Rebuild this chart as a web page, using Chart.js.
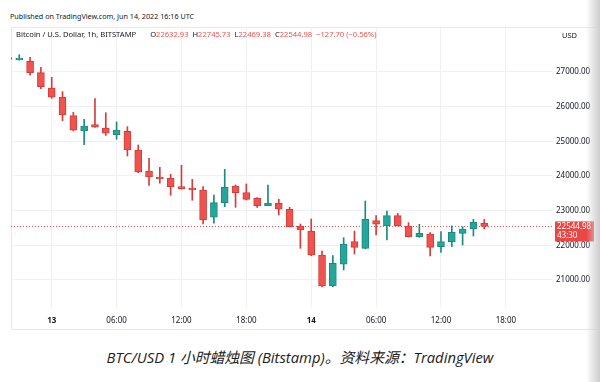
<!DOCTYPE html>
<html>
<head>
<meta charset="utf-8">
<script src="https://cdn.jsdelivr.net/npm/chart.js@4.4.1/dist/chart.umd.min.js"></script>
<style>
  html, body { margin: 0; padding: 0; background: #fff; }
  #page { position: relative; width: 600px; height: 382px; overflow: hidden; background: #fff; font-family: "Noto Sans", "DejaVu Sans", sans-serif; }
  #pub { position: absolute; left: 10px; top: 11px; font-size: 7.2px; color: #131722; white-space: nowrap; }
  #panel { position: absolute; left: 11px; top: 27px; width: 590px; height: 303px; border-top: 1px solid #e6e8ee; border-left: 1px solid #e6e8ee; border-bottom: 1px solid #e6e8ee; box-sizing: border-box; }
  #wrap { position: absolute; left: 0; top: 27px; width: 600px; height: 303px; }
  #legend { position: absolute; left: 16px; top: 29px; font-size: 7.6px; color: #131722; white-space: nowrap; }
  #legend .v { color: #ef5350; }
  #legend .g { display: inline-block; width: 14px; }
  #usd { position: absolute; left: 562px; top: 30px; font-size: 7.5px; color: #131722; }
  #caption { position: absolute; left: 0; width: 600px; top: 346px; text-align: center; font-style: italic; font-size: 14.8px; color: #222; font-family: "Open Sans", "Noto Sans CJK SC", sans-serif; white-space: nowrap; }
  #shade { position: absolute; right: 0; top: 0; width: 14px; height: 382px; background: linear-gradient(to right, rgba(220,220,220,0), rgba(205,205,205,1)); }
</style>
</head>
<body>
<div id="page">
  <div id="pub">Published on TradingView.com, Jun 14, 2022 16:16 UTC</div>
  <div id="panel"></div>
  <div id="wrap"><canvas id="c" width="600" height="303"></canvas></div>
  <div id="legend">Bitcoin / U.S. Dollar, 1h, BITSTAMP<span class="g"></span>O<span class="v">22632.93</span>&nbsp; H<span class="v">22745.73</span>&nbsp; L<span class="v">22469.38</span>&nbsp; C<span class="v">22544.98</span>&nbsp; <span class="v">−127.70 (−0.56%)</span></div>
  <div id="usd">USD</div>
  <div id="caption">BTC/USD 1 小时蜡烛图 (Bitstamp)。资料来源：TradingView</div>
  <div id="shade"></div>
</div>
<script>
// Hour offsets from Jun 13 00:00 UTC (1h candles, Jun 12 20:00 .. Jun 14 16:00)
const hours = [-4,-3,-2,-1,0,1,2,3,4,5,6,7,8,9,10,11,12,13,14,15,16,17,18,19,20,21,22,23,24,25,26,27,28,29,30,31,32,33,34,35,36,37,38,39,40];
const openP  = [27380,27346,27309,26980,26538,26270,25740,25298,25480,25380,25191,25289,24750,24143,23962,23933,23682,23653,23596,22808,23229,23711,23518,23356,23143,23212,23039,22557,22413,21720,20826,21452,22104,21913,22710,22567,22855,22557,22249,22326,21961,22104,22345,22470,22632.93];
const highP  = [27395,27500,27424,27136,26847,26432,25837,25635,26230,25826,25558,25422,24894,24510,24250,24049,24308,23904,23691,23451,24193,23740,23769,23374,23740,23327,23096,22615,22759,21836,21700,22220,22413,23278,22855,22990,22923,22653,22606,22365,22393,22557,22537,22750,22745.73];
const lowP   = [27350,27340,26905,26518,26241,25595,25298,24903,25400,25170,25058,24577,24095,23731,23789,23443,23616,23298,22615,22635,23114,23096,23307,23096,23140,22874,22530,21913,21700,20800,20806,21288,21749,21900,22297,22153,22560,22240,22230,21692,21798,21961,22009,22268,22469.38];
const closeP = [27360,27389,26980,26576,26270,25759,25318,25442,25405,25232,25327,24750,24115,23970,23913,23691,23633,23596,22731,23229,23673,23518,23327,23143,23212,23039,22537,22442,21720,20826,21481,22038,21942,22750,22606,22855,22567,22249,22345,21942,22104,22375,22470,22664,22544.98];
const lastPrice = 22544.98;
const countdown = "43:30";
const yTicks = [21000,22000,23000,24000,25000,26000,27000];
const xTicks = [0,6,12,18,24,30,36,42];
const dayLabels = {0: "13", 24: "14"};

const UP = '#26a69a', DOWN = '#ef5350';
const UPB = '#1c8a7f', DOWNB = '#d43c3a';
const isUp = hours.map((h, i) => closeP[i] >= openP[i]);

const bodies = hours.map((h, i) => ({ x: h, y: [openP[i], closeP[i]] }));
const wicks = hours.map((h, i) => ({ x: h, y: [lowP[i], highP[i]] }));

const priceLine = {
  id: 'priceLine',
  beforeDatasetsDraw(chart) {
    const { ctx, chartArea, scales } = chart;
    const y = Math.round(scales.y.getPixelForValue(lastPrice)) + 0.5;
    ctx.save();
    ctx.strokeStyle = '#ef5350';
    ctx.lineWidth = 1;
    ctx.setLineDash([1, 2]);
    ctx.beginPath();
    ctx.moveTo(chartArea.left, y);
    ctx.lineTo(chartArea.right, y);
    ctx.stroke();
    ctx.restore();
  },
  afterDraw(chart) {
    const { ctx, chartArea, scales } = chart;
    const y = scales.y.getPixelForValue(lastPrice);
    const x0 = chartArea.right + 2;
    ctx.save();
    ctx.fillStyle = '#ef4444';
    ctx.fillRect(x0, y - 5, 39, 20);
    ctx.fillStyle = '#ffffff';
    ctx.font = '8px "Noto Sans", sans-serif';
    ctx.textBaseline = 'middle';
    ctx.textAlign = 'left';
    ctx.fillText(lastPrice.toFixed(2), x0 + 2, y + 0.5);
    ctx.fillText(countdown, x0 + 2, y + 9.5);
    ctx.restore();
  }
};

new Chart(document.getElementById('c'), {
  type: 'bar',
  data: {
    datasets: [
      {
        label: 'body',
        data: bodies,
        backgroundColor: isUp.map(u => u ? UP : DOWN),
        borderColor: isUp.map(u => u ? UPB : DOWNB),
        borderWidth: 1,
        borderSkipped: false,
        barThickness: 7,
        minBarLength: 2,
        grouped: false
      },
      {
        label: 'wick',
        data: wicks,
        backgroundColor: isUp.map(u => u ? UPB : DOWNB),
        borderWidth: 0,
        barThickness: 1,
        grouped: false
      }
    ]
  },
  options: {
    responsive: false,
    animation: false,
    events: [],
    layout: { padding: { left: 11, top: 0, right: 0, bottom: 0 } },
    plugins: { legend: { display: false }, tooltip: { enabled: false } },
    scales: {
      x: {
        type: 'linear',
        position: 'bottom',
        offset: false,
        min: -3.765,
        max: 46.36,
        afterBuildTicks: s => { s.ticks = xTicks.map(v => ({ value: v })); },
        afterFit: s => { s.height = 22; s.paddingLeft = 0; s.paddingRight = 0; },
        grid: { color: '#eff1f5', drawTicks: false, offset: false },
        border: { display: false },
        ticks: {
          padding: 8,
          color: '#131722',
          maxRotation: 0,
          autoSkip: false,
          font: c => ({ size: 8, family: '"Noto Sans", sans-serif', weight: (c.tick && dayLabels[c.tick.value]) ? 'bold' : 'normal' }),
          callback: v => dayLabels[v] !== undefined ? dayLabels[v] : String(v % 24).padStart(2, '0') + ':00'
        }
      },
      y: {
        type: 'linear',
        position: 'right',
        min: 20191,
        max: 28298,
        afterBuildTicks: s => { s.ticks = yTicks.map(v => ({ value: v })); },
        afterFit: s => { s.width = 47; s.paddingTop = 0; s.paddingBottom = 0; },
        grid: { color: '#eff1f5', drawTicks: false },
        border: { display: false },
        ticks: {
          padding: 3,
          color: '#131722',
          font: { size: 8, family: '"Noto Sans", sans-serif' },
          callback: v => Number(v).toFixed(2)
        }
      }
    }
  },
  plugins: [priceLine]
});
</script>
</body>
</html>
